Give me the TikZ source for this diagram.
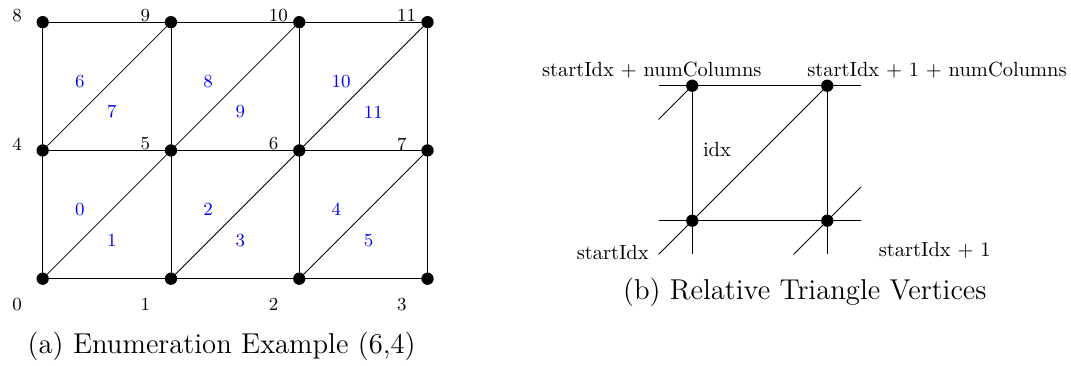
\documentclass[tikz,border=0pt]{standalone}
\usetikzlibrary{calc}

\begin{document}
\begin{tikzpicture}[
  vlabel/.style={font=\small, inner sep=0pt, anchor=west},
  tlabel/.style={font=\small, text=blue, inner sep=0pt, anchor=west},
  rlabel/.style={inner sep=0pt},
  caption/.style={font=\fontsize{14}{17}\selectfont, inner sep=0pt}]

\useasboundingbox (-0.732,-1.48) rectangle (17.635,4.78);

% (a) 网格：4 列 x 3 行顶点，编号 k = 4j + i
\begin{scope}[x=2.2cm, y=2.2cm]
\foreach \j in {0,1,2}
  \foreach \i in {0,...,3} {
    \pgfmathtruncatemacro{\k}{4*\j+\i}
    \coordinate (v\k) at (\i,\j);
  }

% 水平边
\foreach \j in {0,1,2}
  \foreach \i in {0,1,2} {
    \pgfmathtruncatemacro{\a}{4*\j+\i}
    \pgfmathtruncatemacro{\b}{\a+1}
    \draw (v\a) -- (v\b);
  }

% 竖直边与对角边
\foreach \j in {0,1}
  \foreach \i in {0,...,3} {
    \pgfmathtruncatemacro{\a}{4*\j+\i}
    \pgfmathtruncatemacro{\b}{\a+4}
    \draw (v\a) -- (v\b);
    \ifnum\i<3
      \pgfmathtruncatemacro{\c}{\a+5}
      \draw (v\a) -- (v\c);
    \fi
  }

% 顶点
\foreach \k in {0,...,11}
  \fill (v\k) circle (3pt);

% 顶点编号
\foreach \j/\dy in {0/-0.2, 1/0.05, 2/0.05}
  \foreach \i in {0,...,3} {
    \pgfmathtruncatemacro{\k}{4*\j+\i}
    \node[vlabel] (n\k) at (\i-0.24,\j+\dy) {\k};
  }

% 三角形编号（蓝色）
\foreach \j in {0,1}
  \foreach \i in {0,1,2} {
    \pgfmathtruncatemacro{\t}{2*(3*\j+\i)}
    \pgfmathtruncatemacro{\u}{\t+1}
    \node[tlabel] (t\t) at (\i+0.25,\j+0.54) {\t};
    \node[tlabel] (t\u) at (\i+0.5,\j+0.3) {\u};
  }
\end{scope}

\node[caption] (capa) at (3.07,-1.154) {(a) Enumeration Example (6,4)};

% (b) 相对顶点
\begin{scope}[shift={(11.14,0.995)}, x=2.315cm, y=2.315cm]
\coordinate (s0) at (0,0);
\coordinate (s1) at (1,0);
\coordinate (s2) at (0,1);
\coordinate (s3) at (1,1);

% 延伸出去的端点
\coordinate (w0) at (-0.25,0);
\coordinate (e0) at (1.25,0);
\coordinate (w1) at (-0.25,1);
\coordinate (e1) at (1.25,1);
\coordinate (d0) at (0,-0.25);
\coordinate (d1) at (1,-0.25);
\coordinate (q0) at (-0.25,-0.25);
\coordinate (q1) at (-0.25,0.75);
\coordinate (q2) at (0.75,-0.25);
\coordinate (q3) at (1.25,0.25);

\draw (w0) -- (e0);
\draw (w1) -- (e1);
\draw (s2) -- (d0);
\draw (s3) -- (d1);
\draw (q0) -- (s3);
\draw (q1) -- (s2);
\draw (q2) -- (q3);

\foreach \p in {s0,s1,s2,s3}
  \fill (\p) circle (3pt);

\node[rlabel] (l2) at (-0.3,1.116) {startIdx $+$ numColumns};
\node[rlabel] (l3) at (1.813,1.116) {startIdx $+$ 1 $+$ numColumns};
\node[rlabel, anchor=east] (l0) at (-0.32,-0.239) {startIdx};
\node[rlabel] (l1) at (1.796,-0.222) {startIdx $+$ 1};
\node[rlabel] (lidx) at (0.183,0.529) {idx};
\end{scope}

\node[caption] (capb) at (13.07,-0.237) {(b) Relative Triangle Vertices};

\end{tikzpicture}
\end{document}
